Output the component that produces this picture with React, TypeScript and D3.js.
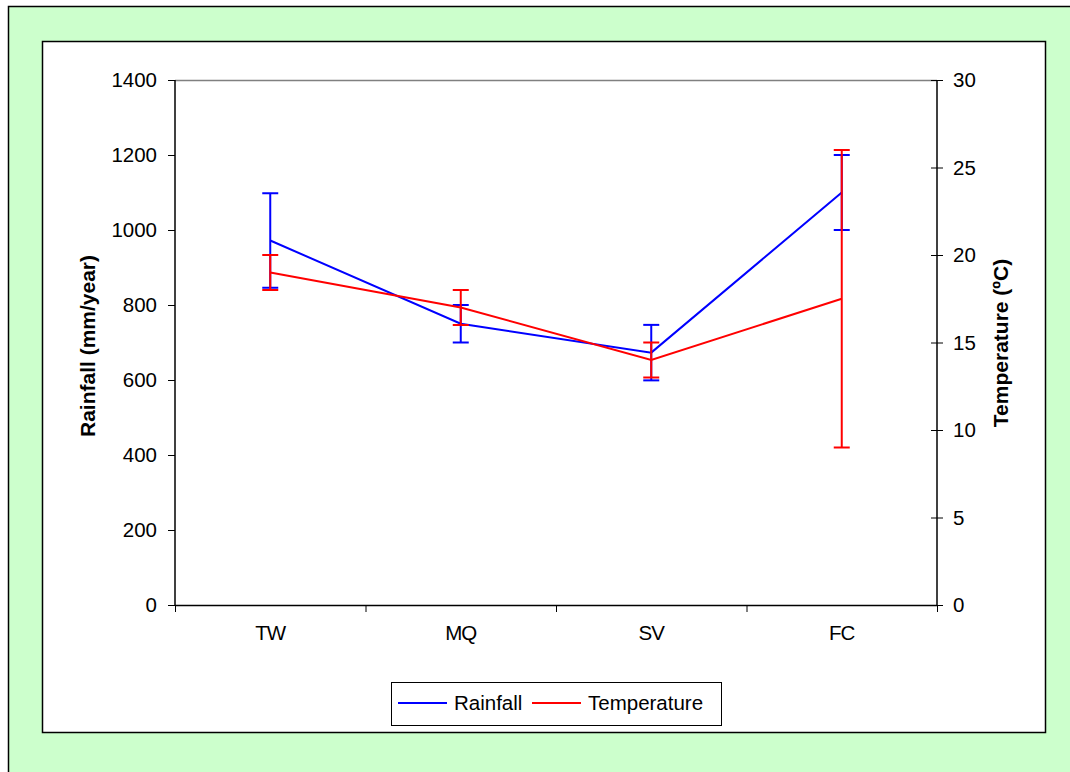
import React, { useEffect, useRef } from 'react';
import * as d3 from 'd3';

// sites and values
const sites = ['TW', 'MQ', 'SV', 'FC'];
const rainfall = [972, 750, 673, 1100];
const rainfallErr = [126, 50, 74, 100];
const temperature = [19, 17, 14, 17.5];
const temperatureErr = [1, 1, 1, 8.5];
const rainTicks = [0, 200, 400, 600, 800, 1000, 1200, 1400];
const tempTicks = [0, 5, 10, 15, 20, 25, 30];

const FONT = '"Liberation Sans", Arial, sans-serif';
const FS = 20.5;

const App = () => {
  const svgRef = useRef<SVGSVGElement>(null);

  useEffect(() => {
    const svg = d3.select(svgRef.current);
    svg.selectAll('*').remove();

    const left = 175, right = 937, top = 80, bottom = 605;

    // background frames
    svg.append('rect')
      .attr('x', 8.5).attr('y', 6.5).attr('width', 1080).attr('height', 800)
      .attr('fill', '#ccffcc').attr('stroke', '#000').attr('stroke-width', 1.5);
    svg.append('rect')
      .attr('x', 42.5).attr('y', 41.5).attr('width', 1003).attr('height', 691)
      .attr('fill', '#fff').attr('stroke', '#000').attr('stroke-width', 1.5);

    const x = d3.scaleBand().domain(sites).range([left, right]);
    const yL = d3.scaleLinear().domain([0, 1400]).range([bottom, top]);
    const yR = d3.scaleLinear().domain([0, 30]).range([bottom, top]);

    // plot area top border
    svg.append('line')
      .attr('x1', left).attr('x2', right).attr('y1', top + 0.5).attr('y2', top + 0.5)
      .attr('stroke', '#808080').attr('stroke-width', 1.5);

    // left axis
    const gl = svg.append('g');
    gl.append('line').attr('x1', left).attr('x2', left).attr('y1', top).attr('y2', bottom)
      .attr('stroke', '#000').attr('stroke-width', 1.5);
    rainTicks.forEach((t) => {
      gl.append('line').attr('x1', left - 7).attr('x2', left)
        .attr('y1', yL(t) + 0.5).attr('y2', yL(t) + 0.5).attr('stroke', '#000');
      gl.append('text').attr('x', 157).attr('y', yL(t)).attr('dy', '0.35em')
        .attr('text-anchor', 'end').attr('font-size', FS).attr('font-family', FONT)
        .text(t);
    });

    // right axis
    const gr = svg.append('g');
    gr.append('line').attr('x1', right).attr('x2', right).attr('y1', top).attr('y2', bottom)
      .attr('stroke', '#000').attr('stroke-width', 1.5);
    tempTicks.forEach((t) => {
      gr.append('line').attr('x1', right - 6).attr('x2', right + 6)
        .attr('y1', yR(t) + 0.5).attr('y2', yR(t) + 0.5).attr('stroke', '#000');
      gr.append('text').attr('x', 953).attr('y', yR(t)).attr('dy', '0.35em')
        .attr('text-anchor', 'start').attr('font-size', FS).attr('font-family', FONT)
        .text(t);
    });

    // x axis
    const gx = svg.append('g');
    gx.append('line').attr('x1', left).attr('x2', right).attr('y1', bottom + 0.5).attr('y2', bottom + 0.5)
      .attr('stroke', '#000').attr('stroke-width', 1.5);
    const bounds = sites.map((s) => x(s) as number).concat([right]);
    bounds.forEach((b) => {
      gx.append('line').attr('x1', b + 0.5).attr('x2', b + 0.5).attr('y1', bottom).attr('y2', bottom + 7)
        .attr('stroke', '#000');
    });
    sites.forEach((s) => {
      gx.append('text').attr('x', (x(s) as number) + x.bandwidth() / 2).attr('y', 640)
        .attr('text-anchor', 'middle').attr('font-size', FS).attr('font-family', FONT)
        .attr('letter-spacing', -1).text(s);
    });

    // axis titles
    svg.append('text')
      .attr('transform', 'translate(95,346) rotate(-90)')
      .attr('text-anchor', 'middle').attr('font-size', 21).attr('font-weight', 'bold')
      .attr('font-family', FONT).text('Rainfall (mm/year)');
    svg.append('text')
      .attr('transform', 'translate(1008,343) rotate(-90)')
      .attr('text-anchor', 'middle').attr('font-size', 21).attr('font-weight', 'bold')
      .attr('font-family', FONT).text('Temperature (ºC)');

    const cx = (i: number) => (x(sites[i]) as number) + x.bandwidth() / 2;

    const drawSeries = (vals: number[], errs: number[], y: d3.ScaleLinear<number, number>, color: string) => {
      const g = svg.append('g');
      const line = d3.line<number>().x((_, i) => cx(i)).y((v) => y(v));
      g.append('path').datum(vals).attr('d', line).attr('fill', 'none')
        .attr('stroke', color).attr('stroke-width', 2);
      vals.forEach((v, i) => {
        const hi = y(v + errs[i]);
        const lo = y(v - errs[i]);
        g.append('line').attr('x1', cx(i)).attr('x2', cx(i)).attr('y1', hi).attr('y2', lo)
          .attr('stroke', color).attr('stroke-width', 2);
        [hi, lo].forEach((yy) => {
          g.append('line').attr('x1', cx(i) - 8).attr('x2', cx(i) + 8).attr('y1', yy).attr('y2', yy)
            .attr('stroke', color).attr('stroke-width', 2);
        });
      });
    };

    drawSeries(rainfall, rainfallErr, yL, '#0000ff');
    drawSeries(temperature, temperatureErr, yR, '#ff0000');

    // legend
    const lg = svg.append('g');
    lg.append('rect').attr('x', 391.5).attr('y', 682.5).attr('width', 330).attr('height', 43)
      .attr('fill', '#fff').attr('stroke', '#000');
    const items = [
      { name: 'Rainfall', color: '#0000ff', x: 398 },
      { name: 'Temperature', color: '#ff0000', x: 532 },
    ];
    items.forEach((it) => {
      lg.append('line').attr('x1', it.x).attr('x2', it.x + 49).attr('y1', 703).attr('y2', 703)
        .attr('stroke', it.color).attr('stroke-width', 2);
      lg.append('text').attr('x', it.x + 56).attr('y', 703).attr('dy', '0.35em')
        .attr('font-size', FS).attr('font-family', FONT).text(it.name);
    });
  }, []);

  return (
    <svg ref={svgRef} width={1070} height={772}
      style={{ position: 'absolute', left: 0, top: 0, display: 'block' }} />
  );
};

export default App;
